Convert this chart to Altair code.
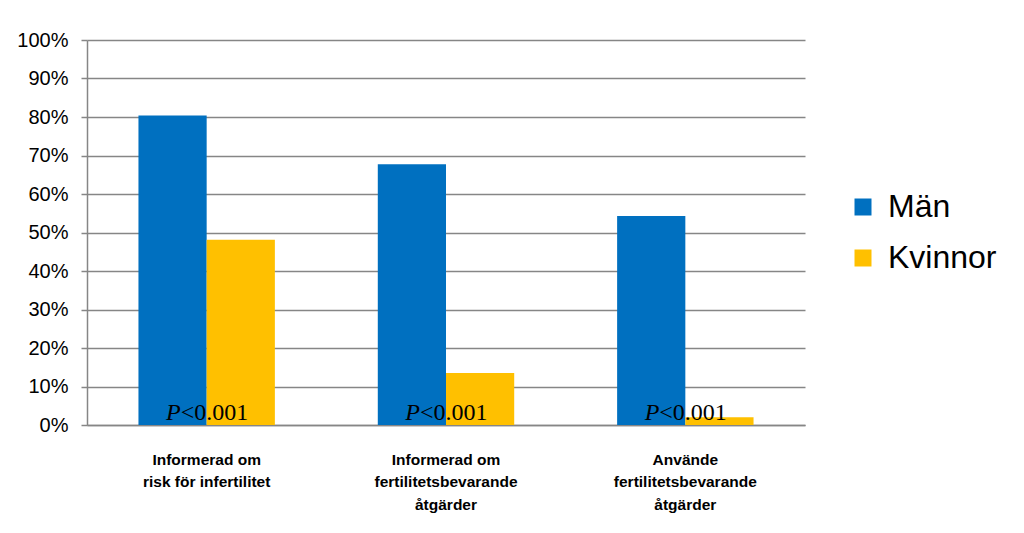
import altair as alt
import pandas as pd

categories = ["Informerad om|risk för infertilitet",
              "Informerad om|fertilitetsbevarande|åtgärder",
              "Använde|fertilitetsbevarande|åtgärder"]
series = ["Män", "Kvinnor"]
man_values = [80.4, 67.7, 54.3]
kvinnor_values = [48.1, 13.5, 2.0]
p_labels = ["<0.001", "<0.001", "<0.001"]
y_ticks = [0, 10, 20, 30, 40, 50, 60, 70, 80, 90, 100]
colors = ["#0070C0", "#FFC000"]

rows = []
for i, c in enumerate(categories):
    rows.append({"cat": c, "serie": "Män", "value": man_values[i]})
    rows.append({"cat": c, "serie": "Kvinnor", "value": kvinnor_values[i]})
df = pd.DataFrame(rows)
pdf = pd.DataFrame({"cat": categories, "p": p_labels, "P": ["P"] * 3, "ypos": [1.3] * 3})

xscale = alt.Scale(domain=categories, paddingInner=0.43, paddingOuter=0.215)
yscale = alt.Scale(domain=[0, 100])

xaxis = alt.Axis(labelExpr="split(datum.label, '|')", labelAngle=0,
                 labelFont="Liberation Sans, Arial",
                 labelFontWeight="bold", labelFontSize=15.5, labelColor="#000000",
                 labelLineHeight=22.5, labelPadding=27, ticks=False,
                 domain=True, domainColor="#868686", domainWidth=1.5, labelBaseline="top")
yaxis = alt.Axis(values=y_ticks, labelOverlap=False,
                 labelExpr="datum.value + '%'",
                 labelFont="Liberation Sans, Arial", labelFontSize=20,
                 labelColor="#000000", labelPadding=13, tickSize=6,
                 tickColor="#868686", tickWidth=1.5, domainColor="#868686",
                 domainWidth=1.5, gridColor="#868686", gridWidth=1.5)

bars = alt.Chart(df).mark_bar().encode(
    x=alt.X("cat:N", scale=xscale, sort=categories, title=None, axis=xaxis),
    xOffset=alt.XOffset("serie:N", sort=series, scale=alt.Scale(domain=series, paddingInner=0, paddingOuter=0)),
    y=alt.Y("value:Q", scale=yscale, title=None, axis=yaxis),
    color=alt.Color("serie:N", sort=series, scale=alt.Scale(domain=series, range=colors),
                    legend=alt.Legend(title=None, orient="none", legendX=760, legendY=151,
                                      symbolType="square", symbolSize=289, symbolStrokeWidth=0,
                                      labelFont="Liberation Sans, Arial", labelFontSize=32,
                                      labelColor="#000000", labelOffset=9, rowPadding=19,
                                      padding=0)),
)

ptext = alt.Chart(pdf).mark_text(font="Liberation Serif", fontSize=24, fontStyle="italic",
                                 align="right", baseline="alphabetic", dx=-26, color="#000000").encode(
    x=alt.X("cat:N", scale=xscale, sort=categories, title=None, axis=xaxis),
    y=alt.Y("ypos:Q", scale=yscale, title=None, axis=yaxis),
    text="P:N",
)
rtext = alt.Chart(pdf).mark_text(font="Liberation Serif", fontSize=24,
                                 align="left", baseline="alphabetic", dx=-26, color="#000000").encode(
    x=alt.X("cat:N", scale=xscale, sort=categories, title=None, axis=xaxis),
    y=alt.Y("ypos:Q", scale=yscale, title=None, axis=yaxis),
    text="p:N",
)

chart = alt.layer(bars, ptext, rtext).properties(
    width=718, height=385,
    autosize=alt.AutoSizeParams(type="none"),
    padding={"left": 79, "top": 32, "right": 211, "bottom": 100},
).configure_view(stroke=None)

chart.save("out.html", embed_options={"renderer": "svg", "actions": False})
